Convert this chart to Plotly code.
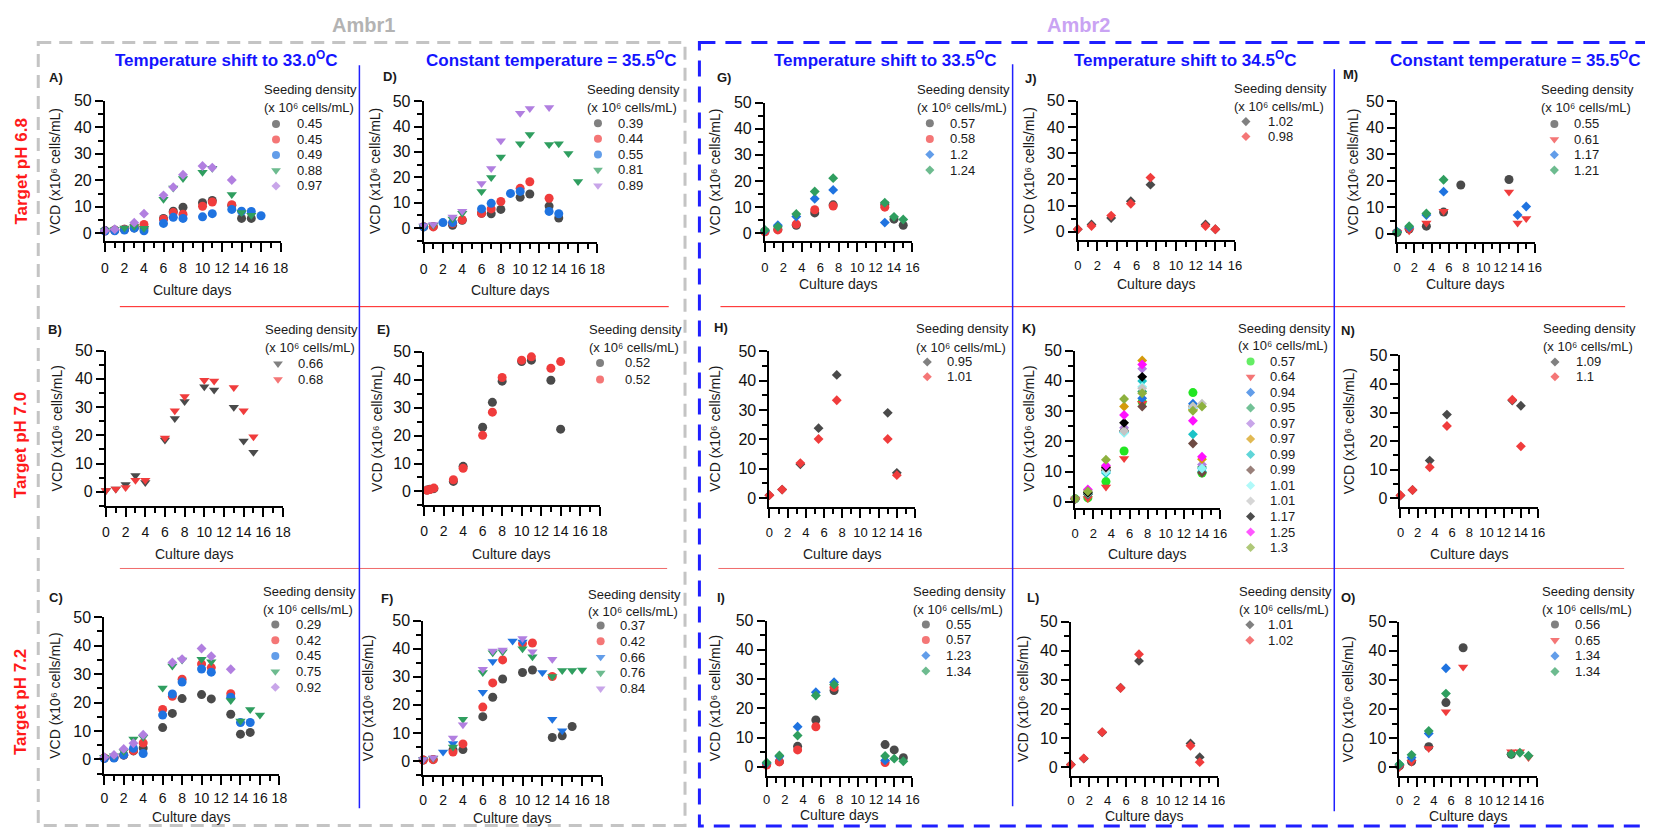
import plotly.graph_objects as go

W, H = 1653, 830
FONT = "Liberation Sans, Arial, sans-serif"

GRAY = "#4a4a4a"
RED = "#f03c3c"
BLUE = "#1f73e0"
GREEN = "#2f9e5f"
PURPLE = "#b17fe0"

# ------------------------------------------------------------------ data
# Panel A  (Ambr1, pH 6.8, shift to 33.0 C)
A_labels = ["0.45", "0.45", "0.49", "0.88", "0.97"]
A_days = [[0, 1, 2, 3, 4, 6, 7, 8, 10, 11, 13, 14, 15],
          [0, 1, 2, 3, 4, 6, 7, 8, 10, 11, 13],
          [0, 1, 2, 3, 4, 6, 7, 8, 10, 11, 13, 14, 15, 16],
          [0, 1, 2, 3, 4, 6, 7, 8, 10, 11, 13, 14, 15],
          [0, 1, 3, 4, 6, 7, 8, 10, 11, 13]]
A_vcd = [[1.0, 1.2, 1.5, 2.0, 2.0, 5.6, 8.3, 9.8, 11.5, 12.4, 10.5, 5.6, 5.6],
         [0.8, 1.1, 1.5, 2.8, 3.3, 5.3, 7.8, 7.2, 10.2, 11.8, 10.8],
         [0.8, 0.9, 1.2, 1.9, 0.9, 3.7, 6.0, 5.6, 6.2, 7.4, 9.0, 8.3, 8.2, 6.6],
         [1.0, 1.4, 2.0, 2.5, 1.9, 12.8, 17.1, 20.7, 23.0, 24.5, 14.6, 7.8, 6.8],
         [1.0, 1.5, 4.0, 7.4, 14.3, 17.4, 22.1, 25.4, 24.8, 20.1]]
A_colors = [GRAY, RED, BLUE, GREEN, PURPLE]
A_symbols = ["circle", "circle", "circle", "triangle-down", "diamond"]

# Panel D  (Ambr1, pH 6.8, constant 35.5 C)
D_labels = ["0.39", "0.44", "0.55", "0.81", "0.89"]
D_days = [[0, 1, 3, 4, 6, 7, 8, 10, 11, 13, 14],
          [0, 1, 3, 4, 6, 7, 8, 10, 11, 13],
          [0, 2, 3, 6, 7, 9, 10, 13, 14],
          [0, 1, 3, 4, 6, 7, 8, 10, 11, 13, 14, 15, 16],
          [0, 1, 3, 4, 6, 7, 8, 10, 11, 13]]
D_vcd = [[0.4, 0.6, 1.0, 3.0, 5.8, 5.6, 7.3, 12.1, 13.4, 8.6, 3.9],
         [0.5, 0.4, 1.8, 3.2, 5.8, 7.5, 10.4, 15.6, 18.2, 11.7],
         [0.4, 2.1, 2.1, 7.5, 9.7, 13.6, 14.4, 6.5, 5.6],
         [0.6, 1.0, 3.5, 5.8, 14.4, 19.9, 28.0, 33.2, 36.8, 32.9, 33.2, 29.4, 18.3],
         [0.8, 1.3, 4.3, 6.6, 17.5, 23.4, 34.4, 45.2, 47.1, 47.5]]
D_colors = [GRAY, RED, BLUE, GREEN, PURPLE]
D_symbols = ["circle", "circle", "circle", "triangle-down", "triangle-down"]

# Panel G  (Ambr2, pH 6.8, shift to 33.5 C)
G_labels = ["0.57", "0.58", "1.2", "1.24"]
G_days = [[0, 1.4, 3.4, 5.4, 7.4, 13, 14, 15],
          [0, 1.4, 3.4, 5.4, 7.4, 13],
          [0, 1.4, 3.4, 5.4, 7.4, 13],
          [0, 1.4, 3.4, 5.4, 7.4, 13, 14, 15]]
G_vcd = [[0.7, 1.5, 3.1, 7.8, 10.9, 11.0, 5.4, 3.1],
         [0.6, 1.3, 3.5, 9.0, 10.4, 10.0],
         [1.1, 3.1, 6.4, 13.2, 16.6, 4.1],
         [1.3, 2.5, 7.4, 16.0, 21.1, 11.7, 6.3, 5.3]]
G_colors = [GRAY, RED, BLUE, GREEN]
G_symbols = ["circle", "circle", "diamond", "diamond"]

# Panel J  (Ambr2, pH 6.8, shift to 34.5 C)
J_labels = ["1.02", "0.98"]
J_days = [[0, 1.4, 3.4, 5.4, 7.4, 13, 14],
          [0, 1.4, 3.4, 5.4, 7.4, 13, 14]]
J_vcd = [[1.0, 2.8, 5.3, 11.7, 18.0, 2.8, 1.0],
         [1.0, 2.2, 6.2, 10.7, 20.7, 2.2, 1.0]]
J_colors = [GRAY, RED]
J_symbols = ["diamond", "diamond"]

# Panel M  (Ambr2, pH 6.8, constant 35.5 C)
M_labels = ["0.55", "0.61", "1.17", "1.21"]
M_days = [[0, 1.4, 3.4, 5.4, 7.4, 13],
          [0, 1.4, 3.4, 5.4, 13, 14, 15],
          [0, 1.4, 3.4, 5.4, 14, 15],
          [0, 1.4, 3.4, 5.4]]
M_vcd = [[0.5, 1.8, 2.9, 8.2, 18.4, 20.5],
         [0.5, 1.2, 4.1, 8.5, 15.8, 4.1, 5.8],
         [0.8, 2.5, 7.1, 15.9, 7.1, 10.3],
         [0.6, 2.9, 7.7, 20.4]]
M_colors = [GRAY, RED, BLUE, GREEN]
M_symbols = ["circle", "triangle-down", "diamond", "diamond"]

# Panel B  (Ambr1, pH 7.0, shift to 33.0 C)
B_labels = ["0.66", "0.68"]
B_days = [[0, 1, 2, 3, 4, 6, 7, 8, 10, 11, 13, 14, 15],
          [0, 1, 2, 3, 4, 6, 7, 8, 10, 11, 13, 14, 15]]
B_vcd = [[0.5, 1.0, 2.6, 5.8, 3.3, 18.3, 25.9, 32.0, 37.2, 36.0, 29.9, 18.0, 14.0],
         [0.5, 1.0, 1.5, 4.1, 4.1, 19.0, 28.7, 33.7, 39.5, 39.2, 36.9, 28.7, 19.5]]
B_colors = [GRAY, RED]
B_symbols = ["triangle-down", "triangle-down"]

# Panel E  (Ambr1, pH 7.0, constant 35.5 C)
E_labels = ["0.52", "0.52"]
E_days = [[0.3, 0.6, 1, 3, 4, 6, 7, 8, 10, 11, 13, 14],
          [0.3, 0.6, 1, 3, 4, 6, 7, 8, 10, 11, 13, 14]]
E_vcd = [[0.5, 0.8, 1.0, 3.6, 9.0, 23.0, 31.9, 39.5, 46.5, 47.0, 39.8, 22.3],
         [0.4, 0.7, 1.2, 4.2, 8.3, 20.1, 28.4, 40.8, 47.0, 48.2, 44.1, 46.5]]
E_colors = [GRAY, RED]
E_symbols = ["circle", "circle"]

# Panel H  (Ambr2, pH 7.0, shift to 33.5 C)
H_labels = ["0.95", "1.01"]
H_days = [[0, 1.4, 3.4, 5.4, 7.4, 13, 14],
          [0, 1.4, 3.4, 5.4, 7.4, 13, 14]]
H_vcd = [[1.0, 2.9, 11.5, 23.8, 41.9, 29.0, 8.6],
         [1.0, 2.9, 11.9, 20.1, 33.3, 20.1, 7.8]]
H_colors = [GRAY, RED]
H_symbols = ["diamond", "diamond"]

# Panel K  (Ambr2, pH 7.0, shift to 34.5 C)
K_labels = ["0.57", "0.64", "0.94", "0.95", "0.97", "0.97", "0.99",
            "0.99", "1.01", "1.01", "1.17", "1.25", "1.3"]
K_days = [[0, 1.4, 3.4, 5.4, 7.4, 13, 14],
          [0, 1.4, 3.4, 5.4, 7.4, 13],
          [0, 1.4, 3.4, 5.4, 7.4, 13, 14],
          [0, 1.4, 3.4, 5.4, 7.4, 13, 14],
          [0, 1.4, 3.4, 5.4, 7.4, 13, 14],
          [0, 1.4, 3.4, 5.4, 7.4, 13, 14],
          [0, 1.4, 3.4, 5.4, 7.4, 13, 14],
          [0, 1.4, 3.4, 5.4, 7.4, 13, 14],
          [0, 1.4, 3.4, 5.4, 7.4, 13, 14],
          [0, 1.4, 3.4, 5.4, 7.4, 13, 14],
          [0, 1.4, 3.4, 5.4, 7.4],
          [0, 1.4, 3.4, 5.4, 7.4, 13, 14],
          [0, 1.4, 3.4, 5.4, 7.4, 13, 14]]
K_vcd = [[1.0, 1.3, 6.7, 16.8, 33.0, 36.1, 9.5],
         [0.9, 1.1, 4.9, 14.3, 32.6, 31.0],
         [1.0, 2.5, 10.0, 23.2, 34.2, 32.4, 11.0],
         [1.0, 2.5, 10.3, 23.5, 36.5, 31.5, 11.5],
         [1.0, 3.5, 11.0, 24.5, 44.0, 31.0, 12.3],
         [1.0, 3.0, 11.5, 31.5, 46.7, 30.5, 14.1],
         [1.0, 2.8, 9.5, 23.0, 39.9, 22.3, 10.0],
         [0.9, 2.6, 10.5, 23.5, 31.5, 19.3, 9.6],
         [1.0, 2.8, 10.0, 22.8, 38.0, 31.0, 11.0],
         [1.0, 3.0, 10.9, 23.4, 37.5, 31.5, 32.4],
         [1.0, 3.0, 11.4, 26.1, 41.3],
         [1.0, 4.1, 12.0, 28.7, 45.4, 26.8, 14.9],
         [1.0, 3.5, 13.9, 34.0, 35.9, 30.1, 31.5]]
K_colors = ["#22e622", RED, BLUE, "#36a66a", PURPLE, "#d49b0a", "#1bc3c7",
            "#6e4a42", "#8ef6f6", "#c4c4c4", "#000000", "#ff10ff", "#8db13e"]
K_symbols = ["circle", "triangle-down"] + ["diamond"] * 11

# Panel N  (Ambr2, pH 7.0, constant 35.5 C)
N_labels = ["1.09", "1.1"]
N_days = [[0, 1.4, 3.4, 5.4, 13, 14],
          [0, 1.4, 3.4, 5.4, 13, 14]]
N_vcd = [[1.0, 2.9, 13.2, 29.3, 34.2, 32.4],
         [1.1, 2.9, 10.9, 25.3, 34.5, 18.2]]
N_colors = [GRAY, RED]
N_symbols = ["diamond", "diamond"]

# Panel C  (Ambr1, pH 7.2, shift to 33.0 C)
C_labels = ["0.29", "0.42", "0.45", "0.75", "0.92"]
C_days = [[0, 1, 2, 3, 4, 6, 7, 8, 10, 11, 13, 14, 15],
          [0, 1, 2, 3, 4, 6, 7, 8, 10, 11, 13],
          [0, 1, 2, 3, 4, 6, 7, 8, 10, 11, 13, 14, 15],
          [0, 1, 2, 3, 4, 6, 7, 8, 10, 11, 13, 14, 15, 16],
          [0, 1, 2, 3, 4, 7, 8, 10, 11, 13]]
C_vcd = [[0.5, 0.7, 1.5, 3.0, 4.0, 11.2, 16.2, 21.4, 22.8, 21.3, 15.9, 8.9, 9.5],
         [0.5, 0.7, 1.6, 3.1, 5.8, 17.6, 22.2, 28.2, 33.6, 32.3, 23.1],
         [0.3, 0.5, 1.6, 3.9, 2.1, 15.6, 23.0, 27.2, 31.8, 30.7, 21.9, 13.0, 13.0],
         [0.8, 1.3, 2.8, 7.2, 7.8, 25.1, 32.9, 35.0, 35.2, 34.4, 20.7, 13.5, 17.6, 15.6],
         [0.8, 1.6, 3.7, 5.7, 8.7, 34.1, 35.3, 39.0, 36.3, 31.7]]
C_colors = [GRAY, RED, BLUE, GREEN, PURPLE]
C_symbols = ["circle", "circle", "circle", "triangle-down", "diamond"]

# Panel F  (Ambr1, pH 7.2, constant 35.5 C)
F_labels = ["0.37", "0.42", "0.66", "0.76", "0.84"]
F_days = [[0, 1, 3, 4, 6, 7, 8, 10, 11, 13, 14, 15],
          [0, 1, 3, 4, 6, 7, 8, 10, 11, 13],
          [0, 2, 3, 6, 7, 9, 10, 12, 13, 14],
          [0, 1, 3, 4, 6, 7, 8, 10, 11, 13, 14, 15, 16],
          [0, 1, 3, 4, 6, 7, 8, 10, 11, 13]]
F_vcd = [[0.4, 0.6, 4.0, 4.1, 15.8, 22.7, 29.2, 31.5, 32.4, 8.4, 9.0, 12.3],
         [0.4, 0.5, 3.2, 6.1, 19.2, 27.8, 36.0, 41.8, 42.0, 30.1],
         [0.5, 3.2, 6.3, 24.5, 35.4, 42.7, 42.4, 31.5, 14.9, 10.8],
         [0.6, 1.0, 5.0, 14.9, 31.5, 38.5, 38.9, 40.0, 37.1, 30.1, 32.2, 32.2, 32.4],
         [0.6, 1.2, 8.2, 12.9, 32.7, 39.2, 39.5, 43.6, 38.9, 36.2]]
F_colors = [GRAY, RED, BLUE, GREEN, PURPLE]
F_symbols = ["circle", "circle", "triangle-down", "triangle-down", "triangle-down"]

# Panel I  (Ambr2, pH 7.2, shift to 33.5 C)
I_labels = ["0.55", "0.57", "1.23", "1.34"]
I_days = [[0, 1.4, 3.4, 5.4, 7.4, 13, 14, 15],
          [0, 1.4, 3.4, 5.4, 7.4, 13],
          [0, 1.4, 3.4, 5.4, 7.4, 13],
          [0, 1.4, 3.4, 5.4, 7.4, 13, 14, 15]]
I_vcd = [[0.8, 1.8, 7.0, 16.0, 26.1, 7.6, 5.8, 3.1],
         [0.6, 1.7, 5.8, 13.7, 27.2, 1.5],
         [1.2, 3.5, 13.7, 25.5, 28.9, 2.2],
         [1.5, 3.9, 10.7, 24.4, 28.1, 3.7, 2.8, 1.9]]
I_colors = [GRAY, RED, BLUE, GREEN]
I_symbols = ["circle", "circle", "diamond", "diamond"]

# Panel L  (Ambr2, pH 7.2, shift to 34.5 C)
L_labels = ["1.01", "1.02"]
L_days = [[0, 1.4, 3.4, 5.4, 7.4, 13, 14],
          [0, 1.4, 3.4, 5.4, 7.4, 13, 14]]
L_vcd = [[1.0, 3.0, 12.0, 27.3, 36.5, 8.2, 3.5],
         [0.9, 3.1, 12.1, 27.2, 38.8, 7.4, 1.8]]
L_colors = [GRAY, RED]
L_symbols = ["diamond", "diamond"]

# Panel O  (Ambr2, pH 7.2, constant 35.5 C)
O_labels = ["0.56", "0.65", "1.34", "1.34"]
O_days = [[0, 1.4, 3.4, 5.4, 7.4, 13],
          [0, 1.4, 3.4, 5.4, 7.4, 13, 14, 15],
          [0, 1.4, 3.4, 5.4],
          [0, 1.4, 3.4, 5.4, 13, 14, 15]]
O_vcd = [[0.5, 2.0, 7.1, 22.2, 41.0, 4.5],
         [0.0, 1.8, 6.5, 19.1, 34.4, 5.4, 5.4, 3.4],
         [1.0, 3.4, 11.6, 34.0],
         [1.1, 4.3, 12.5, 25.3, 4.5, 5.0, 4.0]]
O_colors = [GRAY, RED, BLUE, GREEN]
O_symbols = ["circle", "triangle-down", "diamond", "diamond"]

X_TITLE = "Culture days"
Y_TITLE = "VCD (x10\u2076 cells/mL)"
LEG_TITLE1 = "Seeding density"
LEG_TITLE2 = "(x 10\u2076 cells/mL)"
COL_TITLES = ["Temperature shift to 33.0<sup>O</sup>C",
              "Constant temperature = 35.5<sup>O</sup>C",
              "Temperature shift to 33.5<sup>O</sup>C",
              "Temperature shift to 34.5<sup>O</sup>C",
              "Constant temperature = 35.5<sup>O</sup>C"]
ROW_TITLES = ["Target pH 6.8", "Target pH 7.0", "Target pH 7.2"]
GROUP_TITLES = ["Ambr1", "Ambr2"]

SERIES = {
    "A": (A_labels, A_days, A_vcd, A_colors, A_symbols),
    "D": (D_labels, D_days, D_vcd, D_colors, D_symbols),
    "G": (G_labels, G_days, G_vcd, G_colors, G_symbols),
    "J": (J_labels, J_days, J_vcd, J_colors, J_symbols),
    "M": (M_labels, M_days, M_vcd, M_colors, M_symbols),
    "B": (B_labels, B_days, B_vcd, B_colors, B_symbols),
    "E": (E_labels, E_days, E_vcd, E_colors, E_symbols),
    "H": (H_labels, H_days, H_vcd, H_colors, H_symbols),
    "K": (K_labels, K_days, K_vcd, K_colors, K_symbols),
    "N": (N_labels, N_days, N_vcd, N_colors, N_symbols),
    "C": (C_labels, C_days, C_vcd, C_colors, C_symbols),
    "F": (F_labels, F_days, F_vcd, F_colors, F_symbols),
    "I": (I_labels, I_days, I_vcd, I_colors, I_symbols),
    "L": (L_labels, L_days, L_vcd, L_colors, L_symbols),
    "O": (O_labels, O_days, O_vcd, O_colors, O_symbols),
}

# ------------------------------------------------------------------ layout geometry (pixels)
# x0/x1: pixel of day 0 / day xmax ; y50: pixel of VCD 50 ; ybot: pixel of x-axis line
GEOM = {
    "A": dict(x0=101.7, x1=278.6, xmax=18, y50=94.0, ybot=236.0, ymin=-3),
    "D": dict(x0=422.7, x1=597.7, xmax=18, y50=94.3, ybot=236.7, ymin=-5.5),
    "G": dict(x0=766.5, x1=915.1, xmax=16, y50=95.7, ybot=236.0, ymin=-3),
    "J": dict(x0=1081.6, x1=1240.0, xmax=16, y50=94.0, ybot=234.5, ymin=-3),
    "M": dict(x0=1403.3, x1=1542.0, xmax=16, y50=94.3, ybot=236.7, ymin=-3),
    "B": dict(x0=102.7, x1=281.0, xmax=18, y50=346.7, ybot=504.0, ymin=-5),
    "E": dict(x0=423.2, x1=600.0, xmax=18, y50=348.0, ybot=503.5, ymin=-5),
    "H": dict(x0=771.0, x1=917.7, xmax=16, y50=347.3, ybot=505.0, ymin=-3),
    "K": dict(x0=1079.0, x1=1225.0, xmax=16, y50=346.7, ybot=506.0, ymin=-2),
    "N": dict(x0=1406.7, x1=1545.3, xmax=16, y50=351.7, ybot=505.0, ymin=-3),
    "C": dict(x0=101.0, x1=277.4, xmax=18, y50=616.7, ybot=775.0, ymin=-5),
    "F": dict(x0=422.3, x1=602.3, xmax=18, y50=620.0, ybot=776.5, ymin=-5),
    "I": dict(x0=768.2, x1=915.1, xmax=16, y50=620.0, ybot=777.0, ymin=-3),
    "L": dict(x0=1074.7, x1=1223.0, xmax=16, y50=621.0, ybot=777.5, ymin=-3),
    "O": dict(x0=1405.7, x1=1544.3, xmax=16, y50=621.0, ybot=777.5, ymin=-3),
}
# gap between x-axis line and its tick labels, per row
XLAB_STANDOFF = {"A": 4, "D": 4, "G": 4, "J": 4, "M": 4,
                 "B": 3, "E": 3, "H": 3, "K": 3, "N": 3,
                 "C": 2, "F": 2, "I": 2, "L": 2, "O": 2}
XLAB_SIZE = {"A": 14, "D": 14, "B": 14, "E": 14, "C": 14, "F": 14}
# legend: title x, title y, line2 y, first item y, step, marker x, text x
LEG = {
    "A": (260, 82.7, 100.7, 117.3, 15.7, 274, 292.7),
    "D": (585, 82.7, 100.7, 116.7, 15.75, 598.3, 616.7),
    "G": (918, 82.7, 100.7, 116.7, 15.8, 932.6, 951),
    "J": (1236.7, 81.7, 100, 115, 15, 1251, 1271),
    "M": (1546.7, 82.7, 100.7, 117.3, 15.6, 1561.7, 1579.3),
    "B": (261, 325.7, 343.3, 360, 16, 276, 293.7),
    "E": (587, 325.7, 343.3, 359.3, 16.7, 600.4, 624),
    "H": (917, 324.3, 343.3, 358.3, 15, 930, 948.3),
    "K": (1240.7, 324.3, 341.7, 357.7, 15.7, 1255.7, 1273.3),
    "N": (1548, 324.3, 342.7, 358.3, 15, 1562.3, 1581),
    "C": (259, 591, 609, 624, 15.9, 273.3, 291.7),
    "F": (586.7, 593.3, 611, 625, 16, 601, 618.3),
    "I": (914, 591, 609, 624, 15.7, 928.6, 947),
    "L": (1242, 591, 609, 624.3, 15.7, 1255, 1271.4),
    "O": (1547, 591, 609, 624, 15.9, 1562.3, 1580),
}
LETTER_POS = {"A": (43, 70), "D": (380, 69), "G": (716, 70), "J": (1026, 71), "M": (1347, 67),
              "B": (42, 325), "E": (374, 325), "H": (713, 323), "K": (1023, 324), "N": (1345, 326),
              "C": (43, 597), "F": (378, 598), "I": (716, 597), "L": (1028, 597), "O": (1345, 597)}
XTITLE_Y = {"A": 285, "D": 285, "G": 279, "J": 279, "M": 279,
            "B": 553, "E": 553, "H": 553, "K": 553, "N": 553,
            "C": 819, "F": 820, "I": 817, "L": 818, "O": 818}
YTITLE_X = {"A": 51.7, "D": 373.3, "G": 716.3, "J": 1032.7, "M": 1358.3,
            "B": 53.6, "E": 375, "H": 716, "K": 1033, "N": 1355,
            "C": 51.7, "F": 367, "I": 716.3, "L": 1026.5, "O": 1353.3}

SIZE = {"circle": 9, "diamond": 7.6, "triangle-down": 9}
LSIZE = {"circle": 8, "diamond": 7, "triangle-down": 8.5}

ORDER = ["A", "D", "G", "J", "M", "B", "E", "H", "K", "N", "C", "F", "I", "L", "O"]

fig = go.Figure()
layout = dict(width=W, height=H, autosize=False,
              margin=dict(l=0, r=0, t=0, b=0, pad=0),
              paper_bgcolor="white", plot_bgcolor="rgba(0,0,0,0)",
              showlegend=False, font=dict(family=FONT, color="#1a1a1a"))

OV = 16  # overlay axis (pixel coordinates) for decorations
annotations = []


def ann(x, y, text, size=13, color="#1a1a1a", xanchor="left", yanchor="middle", angle=0):
    annotations.append(dict(x=x, y=y, xref="x%d" % OV, yref="y%d" % OV, text=text,
                            showarrow=False, xanchor=xanchor, yanchor=yanchor,
                            textangle=angle, font=dict(family=FONT, size=size, color=color)))


for i, key in enumerate(ORDER, start=1):
    g = GEOM[key]
    labels, days, vcd, colors, symbols = SERIES[key]
    for lab, d, v, c, s in zip(labels, days, vcd, colors, symbols):
        fig.add_trace(go.Scatter(x=d, y=v, mode="markers", name=lab,
                                 marker=dict(symbol=s, color=c, size=SIZE[s], line=dict(width=0)),
                                 xaxis="x%d" % i, yaxis="y%d" % i, cliponaxis=False,
                                 showlegend=False))
    common = dict(showline=True, linecolor="black", linewidth=2, ticks="outside",
                  tickcolor="black", tickwidth=2, showgrid=False, zeroline=False,
                  fixedrange=True, tickmode="linear", tick0=0)
    layout["xaxis%d" % i] = dict(common, domain=[g["x0"] / W, g["x1"] / W], range=[0, g["xmax"]],
                                 anchor="y%d" % i, dtick=2, ticklen=9, tickangle=0,
                                 ticklabelstandoff=XLAB_STANDOFF[key],
                                 tickfont=dict(size=XLAB_SIZE.get(key, 13), color="#111111"),
                                 minor=dict(dtick=1, ticks="outside", ticklen=5, tickwidth=2,
                                            tickcolor="black", showgrid=False))
    layout["yaxis%d" % i] = dict(common, domain=[1 - g["ybot"] / H, 1 - g["y50"] / H],
                                 range=[g["ymin"], 50], anchor="x%d" % i, dtick=10, ticklen=8,
                                 tickfont=dict(size=16, color="#111111"),
                                 minor=dict(dtick=5, ticks="outside", ticklen=5, tickwidth=2,
                                            tickcolor="black", showgrid=False))
    # axis titles
    ann((g["x0"] + g["x1"]) / 2, XTITLE_Y[key], X_TITLE, size=14, xanchor="center")
    ann(YTITLE_X[key], (g["y50"] + g["ybot"]) / 2, Y_TITLE, size=14, xanchor="center",
        yanchor="middle", angle=-90)
    # panel letter
    lx, ly = LETTER_POS[key]
    ann(lx, ly, "<b>%s)</b>" % key, size=13)
    # legend
    tx, ty1, ty2, iy, step, mx, txt = LEG[key]
    ann(tx, ty1, LEG_TITLE1, size=13)
    ann(tx, ty2, LEG_TITLE2, size=13)
    ys = [iy + k * step for k in range(len(labels))]
    fig.add_trace(go.Scatter(x=[mx] * len(labels), y=ys, mode="markers",
                             marker=dict(symbol=symbols, color=colors,
                                         size=[LSIZE[s] for s in symbols], line=dict(width=0)),
                             xaxis="x%d" % OV, yaxis="y%d" % OV, cliponaxis=False,
                             hoverinfo="skip", showlegend=False))
    for lab, y in zip(labels, ys):
        ann(txt, y, lab, size=13)

layout["xaxis%d" % OV] = dict(domain=[0, 1], range=[0, W], visible=False, fixedrange=True,
                              anchor="y%d" % OV, showgrid=False, zeroline=False)
layout["yaxis%d" % OV] = dict(domain=[0, 1], range=[H, 0], visible=False, fixedrange=True,
                              anchor="x%d" % OV, showgrid=False, zeroline=False)

# group / column / row titles
ann(362, 17, "<b>%s</b>" % GROUP_TITLES[0], size=20, color="#b3b3b3", xanchor="center")
ann(1082, 17, "<b>%s</b>" % GROUP_TITLES[1], size=20, color="#c9a3f3", xanchor="center")
for cx, t in zip([224, 551, 887, 1190, 1523], COL_TITLES):
    ann(cx, 52, "<b>%s</b>" % t, size=17, color="#1414ff", xanchor="center")
for cy, t in zip([166, 443, 703], ROW_TITLES):
    ann(16.7, cy, "<b>%s</b>" % t, size=17, color="#ff1a1a", xanchor="center", angle=-90)

ref = dict(xref="x%d" % OV, yref="y%d" % OV)
shapes = [
    dict(type="rect", x0=34.5, y0=35, x1=686, y1=827.5, fillcolor="rgba(0,0,0,0)",
         line=dict(color="#c4c4c4", width=3, dash="13px,8px"), **ref),
    dict(type="rect", x0=700.5, y0=35, x1=1670, y1=828, fillcolor="rgba(0,0,0,0)",
         line=dict(color="#1f1fff", width=3, dash="16px,10px"), **ref),
    dict(type="line", x0=116.7, x1=669.6, y0=302.3, y1=302.3, line=dict(color="#ff1a1a", width=1), **ref),
    dict(type="line", x0=721.7, x1=1633, y0=302.3, y1=302.3, line=dict(color="#ff1a1a", width=1), **ref),
    dict(type="line", x0=116.7, x1=668, y0=567.3, y1=567.3, line=dict(color="#f06a6a", width=1), **ref),
    dict(type="line", x0=719.6, x1=1632, y0=567.3, y1=567.3, line=dict(color="#f06a6a", width=1), **ref),
    dict(type="line", x0=358, x1=358, y0=58, y1=810, line=dict(color="#2020ff", width=1.5), **ref),
    dict(type="line", x0=1016, x1=1016, y0=57, y1=808, line=dict(color="#2020ff", width=1.5), **ref),
    dict(type="line", x0=1340, x1=1340, y0=62, y1=813, line=dict(color="#2020ff", width=1.5), **ref),
]
layout["shapes"] = shapes
layout["annotations"] = annotations
fig.update_layout(**layout)
fig.write_html("out.html")
